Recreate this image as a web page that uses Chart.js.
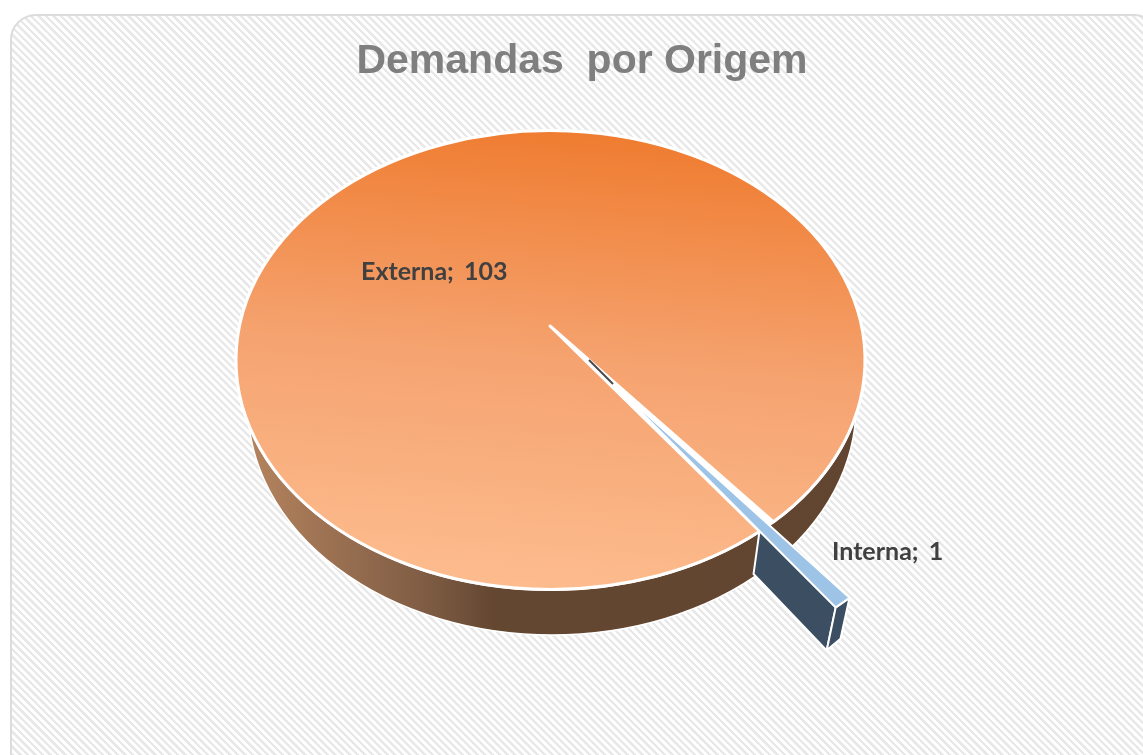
<!DOCTYPE html>
<html>
<head>
<meta charset="utf-8">
<style>
html,body{margin:0;padding:0;width:1143px;height:755px;overflow:hidden;background:#fff}
#frame{position:absolute;left:10px;top:14px;width:1150px;height:800px;box-sizing:border-box;border:2px solid #dcdcdc;border-radius:26px;
background:repeating-linear-gradient(45deg,#ffffff 0,#ffffff 2.6px,#e8e8e8 2.9px,#e8e8e8 5px,#ffffff 5.3px)}
canvas{position:absolute;left:0;top:0}
</style>
<script src="https://cdn.jsdelivr.net/npm/chart.js@4"></script>
</head>
<body>
<div id="frame"></div>
<canvas id="c" width="1143" height="755"></canvas>
<script>
const categories = ["Externa", "Interna"];
const values = [103, 1];
const chartTitle = "Demandas  por Origem";

// 3D look: the library's arc angles are projected onto a tilted disc.
const PIE = {cx:550.5, cy:360, rx:314.5, ry:229.5, apexX:550, apexY:326,
             wallCx:552, wallCy:406, wallRx:304, wallRy:229};
const EXPLODE = {dx:76, dy:76, apexX:613, apexY:384, depthX:-9, depthY:43};
const LABELS = [{x:361, y:272}, {x:832, y:552}];

const pie3d = {
  id:'pie3d',
  beforeDatasetDraw(chart){
    const ctx = chart.ctx, [a0, a1] = chart.getDatasetMeta(0).data, P = PIE, E = EXPLODE;
    const rim = t => [P.cx + P.rx*Math.cos(t), P.cy + P.ry*Math.sin(t)];
    ctx.save();
    ctx.lineJoin = 'round';
    ctx.strokeStyle = '#fff';

    // outer wall
    const wg = ctx.createLinearGradient(P.cx-P.rx, 0, P.cx+P.rx, 0);
    wg.addColorStop(0, '#b88660');
    wg.addColorStop(0.31, '#7d5b43');
    wg.addColorStop(0.41, '#644731');
    wg.addColorStop(1, '#624530');
    ctx.beginPath();
    ctx.ellipse(P.wallCx, P.wallCy, P.wallRx, P.wallRy, 0, 0, Math.PI*2);
    ctx.fillStyle = wg; ctx.fill();
    ctx.lineWidth = 1.5; ctx.stroke();

    // white disc behind the top (shows through the gap)
    ctx.beginPath();
    ctx.ellipse(P.cx, P.cy, P.rx+1.5, P.ry+1.5, 0, 0, Math.PI*2);
    ctx.fillStyle = '#fff'; ctx.fill();

    // Externa top
    const tg = ctx.createLinearGradient(570, P.cy-P.ry, 530, P.cy+P.ry);
    tg.addColorStop(0, '#ef7c30');
    tg.addColorStop(0.5, '#f5a370');
    tg.addColorStop(1, '#fdbc8e');
    ctx.beginPath();
    ctx.moveTo(P.apexX, P.apexY);
    ctx.ellipse(P.cx, P.cy, P.rx, P.ry, 0, a0.startAngle, a0.endAngle);
    ctx.closePath();
    ctx.fillStyle = tg; ctx.fill();
    ctx.lineWidth = 3; ctx.stroke();

    // Interna, pulled out of the pie
    const r0 = rim(a1.startAngle), r1 = rim(a1.endAngle);
    const o0 = [r0[0]+E.dx, r0[1]+E.dy], o1 = [r1[0]+E.dx, r1[1]+E.dy];
    const ax = E.apexX, ay = E.apexY;
    // where the lower edge leaves the main disc
    let t = 1;
    while (t > 0) {
      const x = ax+(o1[0]-ax)*t, y = ay+(o1[1]-ay)*t;
      if (((x-P.cx)/P.rx)**2 + ((y-P.cy)/P.ry)**2 < 1) break;
      t -= 0.002;
    }
    const s = [ax+(o1[0]-ax)*t, ay+(o1[1]-ay)*t];
    ctx.lineWidth = 2;
    ctx.fillStyle = '#3c4f62';
    ctx.beginPath();
    ctx.moveTo(s[0], s[1]); ctx.lineTo(o1[0], o1[1]);
    ctx.lineTo(o1[0]+E.depthX, o1[1]+E.depthY); ctx.lineTo(s[0]-6, s[1]+E.depthY);
    ctx.closePath(); ctx.fill(); ctx.stroke();
    ctx.beginPath();
    ctx.moveTo(o1[0], o1[1]); ctx.lineTo(o0[0], o0[1]);
    ctx.lineTo(o0[0]-9, o0[1]+41); ctx.lineTo(o1[0]+E.depthX, o1[1]+E.depthY);
    ctx.closePath(); ctx.fill(); ctx.stroke();
    ctx.fillStyle = '#9dc3e6';
    ctx.beginPath();
    ctx.moveTo(ax, ay); ctx.lineTo(o0[0], o0[1]); ctx.lineTo(o1[0], o1[1]);
    ctx.closePath(); ctx.fill(); ctx.lineWidth = 2; ctx.stroke();

    // inner sliver near the pie centre
    ctx.beginPath();
    ctx.moveTo(ax-24, ay-24); ctx.lineTo(ax, ay);
    ctx.lineWidth = 2; ctx.strokeStyle = '#4a4a4a'; ctx.stroke();

    // data labels
    ctx.fillStyle = '#404040';
    ctx.font = 'bold 25px Lato';
    ctx.wordSpacing = '4px';
    ctx.textAlign = 'left';
    ctx.textBaseline = 'middle';
    categories.forEach((c,i) => ctx.fillText(c + '; ' + values[i], LABELS[i].x, LABELS[i].y));
    ctx.restore();
    return false;
  }
};

new Chart(document.getElementById('c'), {
  type:'pie',
  data:{labels:categories, datasets:[{data:values, backgroundColor:['#ed7d31','#9dc3e6'], borderWidth:0}]},
  options:{
    responsive:false, animation:false, rotation:138.3,
    layout:{padding:{left:21, right:0, top:0, bottom:119}},
    plugins:{
      legend:{display:false}, tooltip:{enabled:false},
      title:{display:true, text:chartTitle, color:'#7f7f7f',
             font:{family:'"Liberation Sans"', size:41, weight:'bold'}, padding:{top:37,bottom:0}}
    }
  },
  plugins:[pie3d]
});
</script>
</body>
</html>
